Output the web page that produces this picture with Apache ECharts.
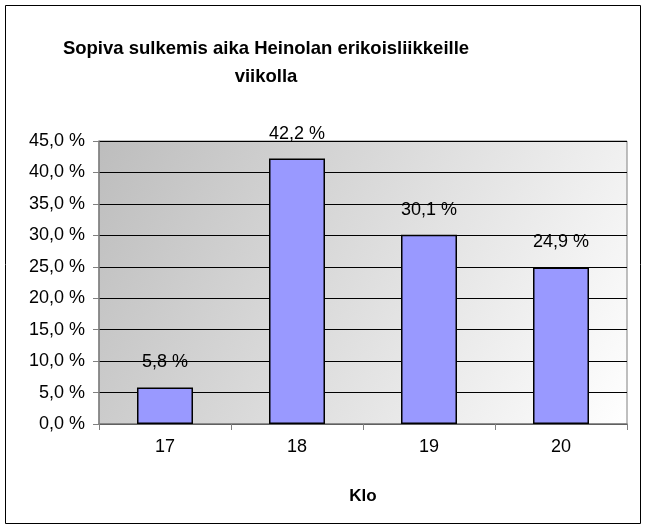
<!DOCTYPE html>
<html>
<head>
<meta charset="utf-8">
<script src="https://cdn.jsdelivr.net/npm/echarts@6/dist/echarts.min.js"></script>
<style>
  html, body { margin: 0; padding: 0; background: #fff; }
  #main { width: 646px; height: 530px; }
</style>
</head>
<body>
<div id="main"></div>
<script>
// data
var categories = ['17', '18', '19', '20'];
var values = [5.8, 42.2, 30.1, 24.9];
var titleText = 'Sopiva sulkemis aika Heinolan erikoisliikkeille\nviikolla';
var xName = 'Klo';

function pct(v) {
    return v.toFixed(1).replace('.', ',') + ' %';
}

var chart = echarts.init(document.getElementById('main'));

var option = {
    backgroundColor: '#fff',
    animation: false,
    textStyle: { fontFamily: 'Liberation Sans' },
    graphic: [{
        type: 'rect',
        shape: { x: 5.5, y: 5.5, width: 635, height: 518 },
        style: { fill: 'none', stroke: '#000', lineWidth: 1 },
        silent: true
    }, {
        type: 'text',
        x: 266,
        y: 35,
        style: {
            text: titleText,
            align: 'center',
            font: 'bold 18.5px "Liberation Sans"',
            lineHeight: 28,
            fill: '#000'
        },
        silent: true
    }],
    grid: {
        left: 99,
        right: 19,
        top: 141,
        bottom: 106,
        show: true,
        borderColor: '#808080',
        borderWidth: 1,
        backgroundColor: new echarts.graphic.LinearGradient(0, 0, 1, 1, [
            { offset: 0, color: '#bdbdbd' },
            { offset: 1, color: '#ffffff' }
        ])
    },
    xAxis: {
        type: 'category',
        data: categories,
        name: xName,
        nameLocation: 'middle',
        nameGap: 64,
        nameTextStyle: { fontSize: 17, fontWeight: 'bold', color: '#000' },
        axisLine: { lineStyle: { color: '#808080', width: 1.5 } },
        axisTick: { show: true, length: 6, lineStyle: { color: '#808080' } },
        axisLabel: { fontSize: 18, color: '#000', margin: 14 }
    },
    yAxis: {
        type: 'value',
        min: 0,
        max: 45,
        interval: 5,
        axisLine: { show: true, lineStyle: { color: '#808080', width: 1.5 } },
        axisTick: { show: true, length: 6, lineStyle: { color: '#808080' } },
        axisLabel: {
            fontSize: 18,
            color: '#000',
            margin: 14,
            formatter: function (v) { return pct(v); }
        },
        splitLine: { lineStyle: { color: '#000', width: 1 } }
    },
    series: [{
        type: 'bar',
        data: values,
        barWidth: 56,
        itemStyle: { color: '#9999ff', borderColor: '#000', borderWidth: 1.5 },
        label: {
            show: true,
            position: 'top',
            distance: 16,
            fontSize: 18,
            color: '#000',
            formatter: function (p) { return pct(p.value); }
        }
    }]
};

chart.setOption(option);
</script>
</body>
</html>
